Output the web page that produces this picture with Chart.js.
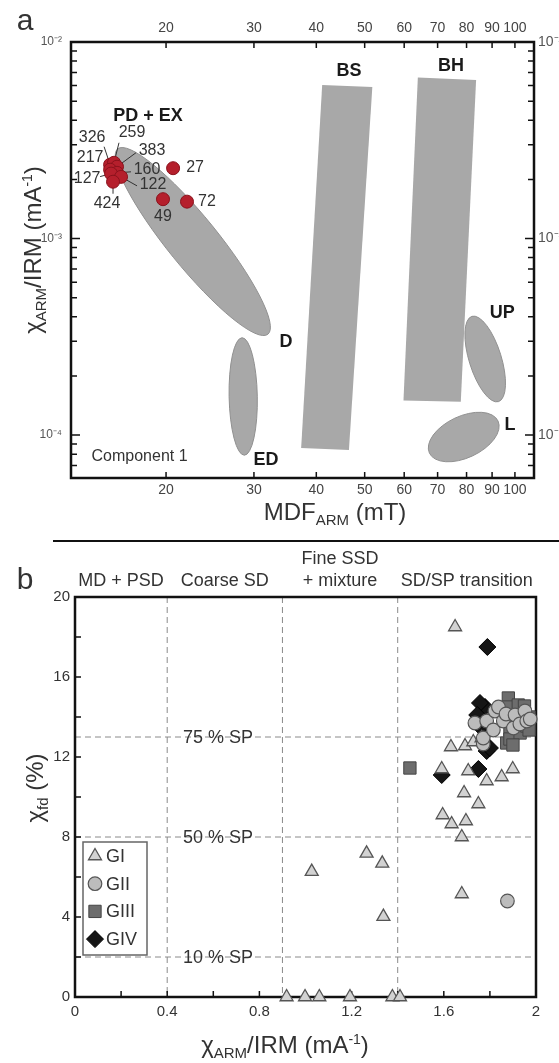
<!DOCTYPE html>
<html>
<head>
<meta charset="utf-8">
<title>MDF ARM and chi ARM/IRM</title>
<script src="https://cdn.jsdelivr.net/npm/chart.js@4.4.1/dist/chart.umd.min.js"></script>
<style>
  html, body { margin: 0; padding: 0; background: #fff; }
  #page { position: relative; width: 559px; height: 1063px; overflow: hidden; font-family: "Liberation Sans", Arial, sans-serif; color: #333; }
  canvas { position: absolute; left: 0; }
  #chartA { top: 0; }
  #chartB { top: 541px; }
  .t { position: absolute; white-space: nowrap; line-height: 1; transform: translate(-50%, -50%); }
  .rot { transform: translate(-50%, -50%) rotate(-90deg); }
  .t sub { font-size: 15px; vertical-align: -5px; line-height: 0; }
  .t sup { font-size: 14px; vertical-align: 9px; line-height: 0; }
  #rule { position: absolute; left: 53px; top: 540px; width: 506px; height: 2px; background: #111; }
</style>
</head>
<body>
<div id="page">
  <canvas id="chartA" width="559" height="540"></canvas>
  <canvas id="chartB" width="559" height="522"></canvas>
  <div id="rule"></div>
  <div class="t" style="left:25px;top:20px;font-size:30px">a</div>
  <div class="t" style="left:25px;top:579px;font-size:30px">b</div>
  <div class="t" style="left:335px;top:512px;font-size:24px">MDF<sub>ARM</sub> (mT)</div>
  <div class="t rot" style="left:33px;top:250px;font-size:24px">χ<sub>ARM</sub>/IRM (mA<sup>-1</sup>)</div>
  <div class="t" style="left:285px;top:1045px;font-size:24px">χ<sub>ARM</sub>/IRM (mA<sup>-1</sup>)</div>
  <div class="t rot" style="left:35px;top:788px;font-size:24px">χ<sub>fd</sub> (%)</div>
</div>
<script>
// ---------- panel a : MDF_ARM (mT) vs chi_ARM/IRM (m/A) ----------
const mdfTicks = [20, 30, 40, 50, 60, 70, 80, 90, 100];
const ratioDecades = [1e-4, 1e-3, 1e-2];
const ratioMinor = [7e-5, 8e-5, 9e-5, 2e-4, 3e-4, 4e-4, 5e-4, 6e-4, 7e-4, 8e-4, 9e-4,
                    2e-3, 3e-3, 4e-3, 5e-3, 6e-3, 7e-3, 8e-3, 9e-3];

const sampleIds   = ['326', '259', '383', '217', '160', '127', '122', '424', '27', '49', '72'];
const sampleMdf   = [15.45, 15.73, 15.95, 15.45, 15.95, 15.52, 16.25, 15.66, 20.66, 19.72, 22.03];
const sampleRatio = [2.375e-3, 2.43e-3, 2.32e-3, 2.24e-3, 2.16e-3, 2.14e-3, 2.06e-3, 1.946e-3, 2.28e-3, 1.586e-3, 1.541e-3];

// reference fields: ellipses given by both ends of the long axis and the width/length ratio
const ellipseEndA  = [[16.0, 2.86e-3], [28.4, 3.13e-4], [82.0, 4.02e-4], [67.4, 8.1e-5]];
const ellipseEndB  = [[32.0, 3.26e-4], [28.7, 7.9e-5], [92.7, 1.48e-4], [92.5, 1.18e-4]];
const ellipseWidth = [0.21, 0.24, 0.36, 0.55];
const bsCorners = [[41.1, 6.05e-3], [51.8, 5.91e-3], [46.5, 8.4e-5], [37.3, 8.6e-5]];
const bhCorners = [[63.9, 6.59e-3], [83.6, 6.41e-3], [77.9, 1.48e-4], [59.8, 1.5e-4]];
const fieldTags  = ['PD + EX', 'BS', 'BH', 'D', 'ED', 'UP', 'L'];
const fieldTagAt = [[18.4, 4.2e-3], [46.5, 7.1e-3], [74.5, 7.55e-3], [34.8, 2.97e-4], [31.7, 7.5e-5], [94.3, 4.16e-4], [97.8, 1.12e-4]];
const componentNote = 'Component 1';
const componentAt = [17.7, 7.8e-5];

// ---------- panel b : chi_ARM/IRM vs chi_fd (%) ----------
const ratioLabels = [0, 0.4, 0.8, 1.2, 1.6, 2];
const ratioSteps = [0.2, 0.4, 0.6, 0.8, 1.0, 1.2, 1.4, 1.6, 1.8];
const fdLabels = [0, 4, 8, 12, 16, 20];
const fdSteps = [2, 4, 6, 8, 10, 12, 14, 16, 18];
const zoneEdges = [0.4, 0.9, 1.4];
const zoneNames = [['MD + PSD'], ['Coarse SD'], ['Fine SSD', '+ mixture'], ['SD/SP transition']];
const spLevels = [13, 8, 2];
const spNames = ['75 % SP', '50 % SP', '10 % SP'];

const gI = [[1.649, 18.5], [1.631, 12.5], [1.692, 12.55], [1.728, 12.75], [1.764, 12.95],
            [1.591, 11.4], [1.706, 11.3], [1.851, 11.0], [1.899, 11.4], [1.786, 10.8],
            [1.688, 10.2], [1.75, 9.65], [1.595, 9.1], [1.634, 8.65], [1.696, 8.8], [1.678, 8.0],
            [1.678, 5.15], [1.027, 6.27], [1.265, 7.18], [1.333, 6.68], [1.338, 4.02],
            [0.918, 0], [0.998, 0], [1.06, 0], [1.193, 0], [1.377, 0], [1.41, 0]];
const gII = [[1.876, 4.8], [1.771, 12.65], [1.771, 12.95], [1.735, 13.7], [1.786, 13.8], [1.815, 13.35],
             [1.822, 14.3], [1.837, 14.5], [1.858, 13.8], [1.87, 14.15], [1.902, 13.45], [1.909, 14.1],
             [1.93, 13.65], [1.952, 14.3], [1.96, 13.8], [1.975, 13.9]];
const gIII = [[1.453, 11.45], [1.873, 12.7], [1.88, 14.95], [1.88, 14.5], [1.923, 14.6], [1.887, 13.35],
              [1.887, 12.9], [1.931, 13.2], [1.97, 14.0], [1.96, 13.55], [1.95, 14.55], [1.91, 13.9],
              [1.97, 13.35], [1.9, 12.6]];
const gIV = [[1.789, 17.5], [1.779, 14.5], [1.757, 14.7], [1.786, 12.3], [1.591, 11.1], [1.75, 11.4],
             [1.8, 12.45], [1.76, 13.5], [1.745, 14.1]];

const FONT = '"Liberation Sans", Arial, sans-serif';
Chart.defaults.font.family = FONT;
Chart.defaults.color = '#333';

// label offsets (px) of the sample numbers and their leader lines
const idLayout = {
  '326': { at: [-18, -27], lead: [-6, -18] },
  '259': { at: [18, -30], lead: [5, -20] },
  '383': { at: [35, -16], lead: [19, -14] },
  '217': { at: [-20, -12] },
  '160': { at: [30, -3], lead: [14, -1] },
  '127': { at: [-24, 5], lead: [-11, 3] },
  '122': { at: [32, 8], lead: [16, 9] },
  '424': { at: [-6, 22], lead: [0, 12] },
  '27':  { at: [22, -1] },
  '49':  { at: [0, 17] },
  '72':  { at: [20, 0] }
};

const sup = { '2': '²', '3': '³', '4': '⁴' };
const decadeLabel = v => '10⁻' + sup[String(-Math.round(Math.log10(v)))];
const setTicks = values => s => { s.ticks = values.map(v => ({ value: v })); };
const fixW = w => s => { s.width = w; s.paddingTop = 0; s.paddingBottom = 0; };
const fixH = h => s => { s.height = h; s.paddingLeft = 0; s.paddingRight = 0; };
const hidden = { grid: { display: false, drawTicks: false }, border: { display: false } };

const fieldsPlugin = {
  id: 'fields',
  beforeDatasetsDraw(chart) {
    const { ctx, scales: { x, y } } = chart;
    const px = p => [x.getPixelForValue(p[0]), y.getPixelForValue(p[1])];
    ctx.save();
    ctx.fillStyle = '#a8a8a8';
    ctx.strokeStyle = '#909090';
    ctx.lineWidth = 1;
    [bsCorners, bhCorners].forEach(c => {
      ctx.beginPath();
      c.map(px).forEach(([a, b], i) => (i ? ctx.lineTo(a, b) : ctx.moveTo(a, b)));
      ctx.closePath();
      ctx.fill();
    });
    ellipseEndA.forEach((end, i) => {
      const [x1, y1] = px(end), [x2, y2] = px(ellipseEndB[i]);
      const half = Math.hypot(x2 - x1, y2 - y1) / 2;
      ctx.beginPath();
      ctx.ellipse((x1 + x2) / 2, (y1 + y2) / 2, half, half * ellipseWidth[i], Math.atan2(y2 - y1, x2 - x1), 0, Math.PI * 2);
      ctx.fill();
      ctx.stroke();
    });
    ctx.strokeStyle = '#333';
    sampleIds.forEach((id, i) => {
      const lead = idLayout[id].lead;
      if (!lead) return;
      const [a, b] = px([sampleMdf[i], sampleRatio[i]]);
      ctx.beginPath();
      ctx.moveTo(a + lead[0], b + lead[1]);
      ctx.lineTo(a, b);
      ctx.stroke();
    });
    ctx.restore();
  },
  afterDatasetsDraw(chart) {
    const { ctx, scales: { x, y } } = chart;
    const px = p => [x.getPixelForValue(p[0]), y.getPixelForValue(p[1])];
    ctx.save();
    ctx.textAlign = 'center';
    ctx.textBaseline = 'middle';
    ctx.font = 'bold 18px ' + FONT;
    ctx.fillStyle = '#1a1a1a';
    fieldTags.forEach((t, i) => ctx.fillText(t, ...px(fieldTagAt[i])));
    ctx.font = '16px ' + FONT;
    ctx.fillStyle = '#333';
    ctx.fillText(componentNote, ...px(componentAt));
    sampleIds.forEach((id, i) => {
      const [a, b] = px([sampleMdf[i], sampleRatio[i]]);
      const off = idLayout[id].at;
      ctx.fillText(id, a + off[0], b + off[1]);
    });
    ctx.restore();
  },
  afterDraw(chart) {
    const { ctx, chartArea: a, scales: { x, y } } = chart;
    ctx.save();
    ctx.strokeStyle = '#111';
    ctx.lineWidth = 1.5;
    ctx.beginPath();
    ratioDecades.concat(ratioMinor).forEach(v => {
      const p = y.getPixelForValue(v);
      const len = ratioDecades.includes(v) ? 9 : 6;
      ctx.moveTo(a.left, p); ctx.lineTo(a.left + len, p);
      ctx.moveTo(a.right, p); ctx.lineTo(a.right - len, p);
    });
    mdfTicks.forEach(v => {
      const p = x.getPixelForValue(v);
      ctx.moveTo(p, a.bottom); ctx.lineTo(p, a.bottom - 6);
      ctx.moveTo(p, a.top); ctx.lineTo(p, a.top + 6);
    });
    ctx.stroke();
    ctx.lineWidth = 2.5;
    ctx.strokeRect(a.left, a.top, a.right - a.left, a.bottom - a.top);
    ctx.restore();
  }
};

new Chart(document.getElementById('chartA'), {
  type: 'scatter',
  data: {
    datasets: [{
      label: 'samples',
      data: sampleMdf.map((m, i) => ({ x: m, y: sampleRatio[i] })),
      pointRadius: 6.5,
      backgroundColor: '#b51f2c',
      borderColor: '#8a121c',
      borderWidth: 1,
      clip: false
    }]
  },
  options: {
    responsive: false,
    animation: false,
    layout: { padding: 0 },
    plugins: { legend: { display: false }, tooltip: { enabled: false } },
    scales: {
      x: { type: 'logarithmic', axis: 'x', position: 'bottom', min: 12.9, max: 109.2, ...hidden,
           afterBuildTicks: setTicks(mdfTicks), afterFit: fixH(62),
           ticks: { autoSkip: false, maxRotation: 0, padding: 4, color: '#444', font: { size: 14 }, callback: v => String(v) } },
      x2: { type: 'logarithmic', axis: 'x', position: 'top', min: 12.9, max: 109.2, ...hidden,
            afterBuildTicks: setTicks(mdfTicks), afterFit: fixH(42),
            ticks: { autoSkip: false, maxRotation: 0, padding: 5, color: '#444', font: { size: 14 }, callback: v => String(v) } },
      y: { type: 'logarithmic', axis: 'y', position: 'left', min: 6.05e-5, max: 1e-2, ...hidden,
           afterBuildTicks: setTicks(ratioDecades), afterFit: fixW(71),
           ticks: { autoSkip: false, padding: 9, color: '#555', font: { size: 12 }, callback: decadeLabel } },
      y2: { type: 'logarithmic', axis: 'y', position: 'right', min: 6.05e-5, max: 1e-2, ...hidden,
            afterBuildTicks: setTicks(ratioDecades), afterFit: fixW(25),
            ticks: { autoSkip: false, padding: 4, color: '#555', font: { size: 14 }, callback: decadeLabel } }
    }
  },
  plugins: [fieldsPlugin]
});

// ---------- panel b ----------
function drawSymbol(ctx, style, r, cx, cy) {
  ctx.beginPath();
  if (style === 'circle') ctx.arc(cx, cy, r, 0, Math.PI * 2);
  else if (style === 'triangle') {
    ctx.moveTo(cx, cy - r); ctx.lineTo(cx + r * 0.866, cy + r / 2); ctx.lineTo(cx - r * 0.866, cy + r / 2); ctx.closePath();
  } else if (style === 'rect') {
    const h = r * Math.SQRT1_2; ctx.rect(cx - h, cy - h, 2 * h, 2 * h);
  } else {
    ctx.moveTo(cx, cy - r); ctx.lineTo(cx + r, cy); ctx.lineTo(cx, cy + r); ctx.lineTo(cx - r, cy); ctx.closePath();
  }
  ctx.fill();
  ctx.stroke();
}

const zonesPlugin = {
  id: 'zones',
  beforeDatasetsDraw(chart) {
    const { ctx, chartArea: a, scales: { x, y } } = chart;
    ctx.save();
    ctx.strokeStyle = '#8a8a8a';
    ctx.lineWidth = 1;
    ctx.setLineDash([6, 4]);
    ctx.beginPath();
    zoneEdges.forEach(v => { const p = x.getPixelForValue(v); ctx.moveTo(p, a.top); ctx.lineTo(p, a.bottom); });
    spLevels.forEach(v => { const p = y.getPixelForValue(v); ctx.moveTo(a.left, p); ctx.lineTo(a.right, p); });
    ctx.stroke();
    ctx.setLineDash([]);
    ctx.fillStyle = '#333';
    ctx.font = '18px ' + FONT;
    ctx.textAlign = 'center';
    ctx.textBaseline = 'middle';
    spNames.forEach((t, i) => ctx.fillText(t, x.getPixelForValue(0.62), y.getPixelForValue(spLevels[i]) + 1));
    // inner ticks and frame
    ctx.strokeStyle = '#111';
    ctx.lineWidth = 1.5;
    ctx.beginPath();
    ratioSteps.forEach(v => { const p = x.getPixelForValue(v); ctx.moveTo(p, a.bottom); ctx.lineTo(p, a.bottom - 6); });
    fdSteps.forEach(v => { const p = y.getPixelForValue(v); ctx.moveTo(a.left, p); ctx.lineTo(a.left + 6, p); });
    ctx.stroke();
    ctx.lineWidth = 2.5;
    ctx.strokeRect(a.left, a.top, a.right - a.left, a.bottom - a.top);
    ctx.restore();
  },
  afterDraw(chart) {
    const { ctx, chartArea: a, scales: { x } } = chart;
    ctx.save();
    ctx.fillStyle = '#333';
    ctx.font = '18px ' + FONT;
    ctx.textAlign = 'center';
    ctx.textBaseline = 'middle';
    const edges = [x.min].concat(zoneEdges, [x.max]);
    zoneNames.forEach((lines, i) => {
      const cx = (x.getPixelForValue(edges[i]) + x.getPixelForValue(edges[i + 1])) / 2;
      lines.forEach((t, j) => ctx.fillText(t, cx, 40 - (lines.length - 1 - j) * 22));
    });
    // legend box
    const lx = a.left + 8, ly = a.top + 245;
    ctx.fillStyle = '#fff';
    ctx.strokeStyle = '#666';
    ctx.lineWidth = 1.5;
    ctx.fillRect(lx, ly, 64, 113);
    ctx.strokeRect(lx, ly, 64, 113);
    ctx.textAlign = 'left';
    chart.data.datasets.forEach((ds, i) => {
      const cy = ly + 14 + i * 27.7;
      ctx.fillStyle = ds.backgroundColor;
      ctx.strokeStyle = ds.borderColor;
      ctx.lineWidth = ds.borderWidth;
      drawSymbol(ctx, ds.pointStyle, ds.pointRadius, lx + 12, cy);
      ctx.fillStyle = '#333';
      ctx.fillText(ds.label, lx + 23, cy + 1);
    });
    ctx.restore();
  }
};

const toXY = arr => arr.map(([x, y]) => ({ x, y }));

new Chart(document.getElementById('chartB'), {
  type: 'scatter',
  data: {
    datasets: [
      { label: 'GI', data: toXY(gI), pointStyle: 'triangle', pointRadius: 7.5, backgroundColor: '#d2d2d2', borderColor: '#555', borderWidth: 1.3, order: 1, clip: false },
      { label: 'GII', data: toXY(gII), pointStyle: 'circle', pointRadius: 6.8, backgroundColor: '#bcbcbc', borderColor: '#555', borderWidth: 1.2, order: 0, clip: false },
      { label: 'GIII', data: toXY(gIII), pointStyle: 'rect', pointRadius: 8.7, backgroundColor: '#6d6d6d', borderColor: '#444', borderWidth: 1, order: 2, clip: false },
      { label: 'GIV', data: toXY(gIV), pointStyle: 'rectRot', pointRadius: 8.5, backgroundColor: '#151515', borderColor: '#000', borderWidth: 1, order: 3, clip: false }
    ]
  },
  options: {
    responsive: false,
    animation: false,
    layout: { padding: { top: 56, right: 23, left: 0, bottom: 0 } },
    plugins: { legend: { display: false }, tooltip: { enabled: false } },
    scales: {
      x: { type: 'linear', min: 0, max: 2, ...hidden,
           afterBuildTicks: setTicks(ratioLabels), afterFit: fixH(66),
           ticks: { autoSkip: false, maxRotation: 0, padding: 6, color: '#333', font: { size: 15 }, callback: v => String(v) } },
      y: { type: 'linear', min: 0, max: 20, ...hidden,
           afterBuildTicks: setTicks(fdLabels), afterFit: fixW(75),
           ticks: { autoSkip: false, padding: 5, color: '#333', font: { size: 15 }, callback: v => String(v) } }
    }
  },
  plugins: [zonesPlugin]
});
</script>
</body>
</html>
